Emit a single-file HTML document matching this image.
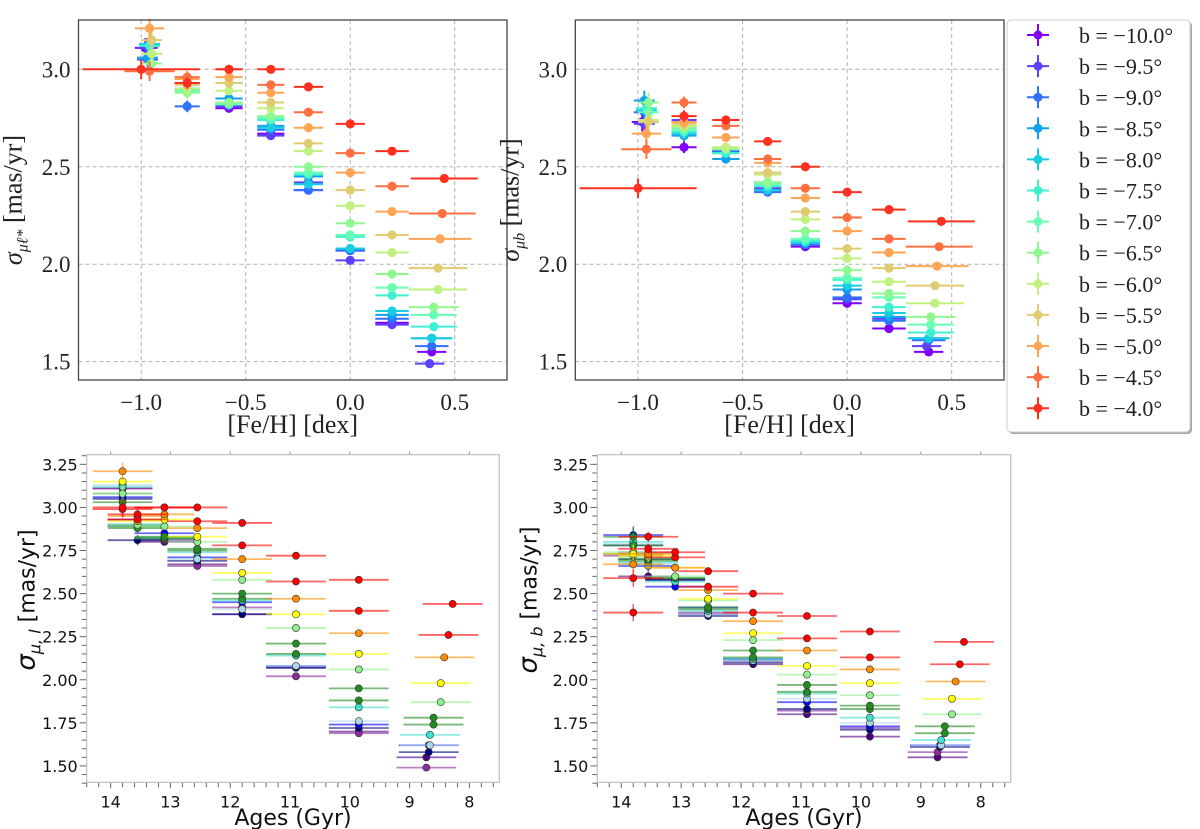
<!DOCTYPE html>
<html><head><meta charset="utf-8"><title>Velocity dispersion vs metallicity and age</title>
<style>
html,body{margin:0;padding:0;background:#fff;}
svg{display:block;}
.serif{font-family:"Liberation Serif",serif;}
.sans{font-family:"DejaVu Sans","Liberation Sans",sans-serif;}
</style></head>
<body>
<svg id="fig" width="1200" height="829" viewBox="0 0 1200 829" xmlns="http://www.w3.org/2000/svg">
<rect width="1200" height="829" fill="#fff"/>
<g id="tl"></g>
<g id="tr"></g>
<g id="bl"></g>
<g id="br"></g>
<g id="legend"></g>
</svg>
<script>
const seriesLabels = ["−10.0","−9.5","−9.0","−8.5","−8.0","−7.5","−7.0","−6.5","−6.0","−5.5","−5.0","−4.5","−4.0"];
const fehBins = [-0.97,-0.78,-0.58,-0.38,-0.2,0.0,0.2,0.40];
const fehFirst = [-0.98,-0.97,-0.97,-0.97,-0.96,-0.96,-0.95,-0.95,-0.95,-0.95,-0.96,-0.96,-1.0];
const fehLast = [0.39,0.38,0.39,0.39,0.39,0.40,0.40,0.40,0.42,0.42,0.43,0.44,0.45];
const fehErr = [0.06,0.06,0.065,0.065,0.07,0.07,0.08,0.1];
const fehFirstErr = [0.05,0.05,0.05,0.05,0.05,0.05,0.05,0.05,0.05,0.05,0.07,0.12,0.28];
const fehLastErr = [0.07,0.07,0.08,0.09,0.1,0.11,0.11,0.12,0.14,0.14,0.15,0.16,0.16];
const ageBins = [13.8,13.55,13.1,12.55,11.8,10.9,9.85,8.65];
const ageLast = [8.72,8.72,8.68,8.68,8.66,8.66,8.6,8.6,8.48,8.48,8.42,8.35,8.28];
const ageErr = [0.5,0.5,0.5,0.5,0.5,0.5,0.5,0.5];
const sigL = [
 [3.11,2.93,2.80,2.67,2.38,2.07,1.70,1.55],
 [3.11,2.93,2.81,2.66,2.42,2.02,1.69,1.49],
 [3.05,2.81,2.82,2.69,2.38,2.07,1.72,1.58],
 [3.06,2.90,2.85,2.71,2.45,2.08,1.74,1.62],
 [3.13,2.89,2.83,2.70,2.41,2.08,1.76,1.62],
 [3.12,2.90,2.82,2.74,2.46,2.14,1.84,1.68],
 [3.08,2.89,2.82,2.75,2.47,2.15,1.88,1.74],
 [3.03,2.88,2.83,2.76,2.50,2.21,1.95,1.78],
 [3.08,2.90,2.89,2.80,2.58,2.30,2.06,1.87],
 [3.15,2.92,2.93,2.83,2.62,2.38,2.15,1.98],
 [3.21,2.95,2.96,2.88,2.70,2.47,2.27,2.13],
 [2.99,2.96,3.00,2.92,2.78,2.57,2.40,2.26],
 [3.00,2.93,3.00,3.00,2.91,2.72,2.58,2.44]
];
const sigB = [
 [2.73,2.60,2.58,2.38,2.09,1.80,1.67,1.55],
 [2.72,2.74,2.58,2.39,2.11,1.82,1.72,1.58],
 [2.78,2.70,2.58,2.37,2.10,1.83,1.71,1.61],
 [2.84,2.66,2.54,2.42,2.12,1.87,1.73,1.62],
 [2.79,2.67,2.57,2.38,2.11,1.89,1.75,1.62],
 [2.80,2.68,2.57,2.40,2.12,1.92,1.78,1.65],
 [2.78,2.69,2.59,2.41,2.13,1.93,1.83,1.69],
 [2.83,2.70,2.59,2.42,2.17,1.97,1.85,1.73],
 [2.74,2.71,2.60,2.46,2.23,2.03,1.91,1.80],
 [2.73,2.72,2.65,2.47,2.27,2.08,1.98,1.89],
 [2.67,2.73,2.65,2.52,2.34,2.17,2.06,1.99],
 [2.59,2.83,2.71,2.54,2.39,2.24,2.13,2.09],
 [2.39,2.76,2.74,2.63,2.50,2.37,2.28,2.22]
];
const sigErr = [0.05,0.03,0.02,0.02,0.02,0.02,0.02,0.02];
const fehTicks = [-1.0,-0.5,0.0,0.5];
const fehTickLabels = ["−1.0","−0.5","0.0","0.5"];
const sigTicksTop = [1.5,2.0,2.5,3.0];
const sigTickLabelsTop = ["1.5","2.0","2.5","3.0"];
const ageTicks = [14,13,12,11,10,9,8];
const sigTicksBot = [1.5,1.75,2.0,2.25,2.5,2.75,3.0,3.25];
const sigTickLabelsBot = ["1.50","1.75","2.00","2.25","2.50","2.75","3.00","3.25"];

const topColors = ["#8000ff","#5a40ff","#3070ff","#10a0f0","#18cde0","#40f0d0","#66ffb3","#90f890","#c0f080","#e0cc70","#ffa555","#ff7040","#ff3020"];
const botColors = ["#4b0082","#8b2a9b","#000080","#0000ff","#add8e6","#40e0d0","#228b22","#228b22","#90ee90","#ffff00","#ff8c00","#ff0000","#ff0000"];
const NS = "http://www.w3.org/2000/svg";
function mk(parent, tag, attrs, name, txt){
  const e = document.createElementNS(NS, tag);
  for (const k in attrs) e.setAttribute(k, attrs[k]);
  
  
  if (txt !== undefined) e.textContent = txt;
  parent.appendChild(e); return e;
}
function lin(d0,d1,r0,r1){ return v => r0 + (v-d0)/(d1-d0)*(r1-r0); }

function topPanel(id, x0, x1, sig, isL){
  const g = document.getElementById(id);
  const y0 = 20, y1 = 380;
  const X = lin(-1.30,0.75,x0,x1), Y = lin(3.253,1.406,y0,y1);
  fehTicks.forEach((t,i)=>{
    mk(g,'line',{x1:X(t),x2:X(t),y1:y0,y2:y1,stroke:'#b0b0b0','stroke-width':1,'stroke-dasharray':'4,3'},'x-grid-line');
    mk(g,'text',{x:X(t),y:y1+30,'text-anchor':'middle','font-size':23,class:'serif',fill:'#222'},'x-tick-label',fehTickLabels[i]);
  });
  sigTicksTop.forEach((t,i)=>{
    mk(g,'line',{x1:x0,x2:x1,y1:Y(t),y2:Y(t),stroke:'#b0b0b0','stroke-width':1,'stroke-dasharray':'4,3'},'y-grid-line');
    mk(g,'text',{x:x0-8,y:Y(t)+8,'text-anchor':'end','font-size':23,class:'serif',fill:'#222'},'y-tick-label',sigTickLabelsTop[i]);
  });
  for (let s=0;s<sig.length;s++){
    const c = topColors[s];
    for (let b=0;b<8;b++){
      const fx = b===0 ? fehFirst[s] : (b===7 ? fehLast[s] : fehBins[b]);
      const fe = b===0 ? fehFirstErr[s] : (b===7 ? fehLastErr[s] : fehErr[b]);
      const v = sig[s][b], cy = Y(v), cx = X(fx);
      mk(g,'line',{x1:X(fx-fe),x2:X(fx+fe),y1:cy,y2:cy,stroke:c,'stroke-width':2},'error-bar-x');
      mk(g,'line',{x1:cx,x2:cx,y1:Y(v+sigErr[b]),y2:Y(v-sigErr[b]),stroke:c,'stroke-width':2},'error-bar-y');
      mk(g,'circle',{cx:cx,cy:cy,r:4.6,fill:c},'data-point');
    }
  }
  mk(g,'rect',{x:x0,y:y0,width:x1-x0,height:y1-y0,fill:'none',stroke:'#444','stroke-width':1.3},'axes-frame');
  mk(g,'text',{x:(x0+x1)/2,y:433,'text-anchor':'middle','font-size':26,class:'serif',fill:'#222'},'x-axis-title','[Fe/H] [dex]');
  const cx = x0-57, cy = 200;
  const yl = mk(g,'text',{x:cx,y:cy,'text-anchor':'middle','font-size':26,class:'serif',fill:'#222',transform:`rotate(-90 ${cx} ${cy})`},'y-axis-title');
  const t1 = document.createElementNS(NS,'tspan'); t1.setAttribute('font-style','italic'); t1.textContent='σ'; yl.appendChild(t1);
  const t2 = document.createElementNS(NS,'tspan'); t2.setAttribute('font-size','16'); t2.setAttribute('dy','6'); t2.setAttribute('font-style','italic'); t2.textContent = isL ? 'μℓ*' : 'μb'; yl.appendChild(t2);
  const t3 = document.createElementNS(NS,'tspan'); t3.setAttribute('dy','-6'); t3.textContent=' [mas/yr]'; yl.appendChild(t3);
}

function botPanel(id, x0, x1, sig, isL){
  const g = document.getElementById(id);
  const y0 = 454.7, y1 = 782.3;
  const X = lin(14.40,7.50,x0,x1), Y = lin(3.306,1.405,y0,y1);
  for (let t=7.6; t<=14.4; t+=0.2){
    const major = Math.abs(t-Math.round(t))<0.01;
    mk(g,'line',{x1:X(t),x2:X(t),y1:y1,y2:y1+(major?6:5),stroke:'#666','stroke-width':1},'x-tick');
    if (major) mk(g,'line',{x1:X(t),x2:X(t),y1:y0,y2:y0-3,stroke:'#888','stroke-width':1},'x-tick-top');
  }
  ageTicks.forEach(t=>{
    mk(g,'text',{x:X(t),y:y1+25,'text-anchor':'middle','font-size':16,class:'sans',fill:'#111'},'x-tick-label',String(t));
  });
  for (let v=1.40; v<=3.30; v+=0.05){
    const major = Math.abs(v*4-Math.round(v*4))<0.01;
    mk(g,'line',{x1:x0,x2:x0-(major?7:5),y1:Y(v),y2:Y(v),stroke:'#666','stroke-width':1},'y-tick');
  }
  sigTicksBot.forEach((t,i)=>{
    mk(g,'text',{x:x0-9,y:Y(t)+6,'text-anchor':'end','font-size':16,class:'sans',fill:'#111'},'y-tick-label',sigTickLabelsBot[i]);
  });
  for (let s=0;s<sig.length;s++){
    const c = botColors[s];
    for (let b=0;b<8;b++){
      const ax = b===7 ? ageLast[s] : ageBins[b];
      const v = sig[s][b], cy = Y(v), cx = X(ax);
      mk(g,'line',{x1:X(ax+ageErr[b]),x2:X(ax-ageErr[b]),y1:cy,y2:cy,stroke:c,'stroke-width':1.8,'stroke-opacity':0.6},'error-bar-x');
      mk(g,'line',{x1:cx,x2:cx,y1:Y(v+sigErr[b]),y2:Y(v-sigErr[b]),stroke:c,'stroke-width':1.5,'stroke-opacity':0.6},'error-bar-y');
      mk(g,'circle',{cx:cx,cy:cy,r:3.6,fill:c,stroke:'#333','stroke-width':0.6},'data-point');
    }
  }
  mk(g,'rect',{x:x0,y:y0,width:x1-x0,height:y1-y0,fill:'none',stroke:'#c0c0c0','stroke-width':1.2},'axes-frame');
  mk(g,'text',{x:(x0+x1)/2,y:825,'text-anchor':'middle','font-size':22,class:'sans',fill:'#111'},'x-axis-title','Ages (Gyr)');
  const cx = x0-(isL?52:61), cy = 600;
  const yl = mk(g,'text',{x:cx,y:cy,'text-anchor':'middle','font-size':22,class:'sans',fill:'#111',transform:`rotate(-90 ${cx} ${cy})`},'y-axis-title');
  const t1 = document.createElementNS(NS,'tspan'); t1.setAttribute('font-style','italic'); t1.setAttribute('font-size','26'); t1.textContent='σ'; yl.appendChild(t1);
  const t2 = document.createElementNS(NS,'tspan'); t2.setAttribute('font-size','16'); t2.setAttribute('dy','6'); t2.setAttribute('font-style','italic'); t2.textContent = isL ? 'μ, l' : 'μ, b'; yl.appendChild(t2);
  const t3 = document.createElementNS(NS,'tspan'); t3.setAttribute('dy','-6'); t3.textContent=' [mas/yr]'; yl.appendChild(t3);
}

topPanel('tl',78.5,507,sigL,true);
topPanel('tr',575.3,1004,sigB,false);
botPanel('bl',86.7,499.3,sigL,true);
botPanel('br',597.3,1010.7,sigB,false);

(function(){
  const g = document.getElementById('legend');
  mk(g,'rect',{x:1009,y:22,width:183,height:412,rx:4,fill:'#aaa'},'legend-shadow');
  mk(g,'rect',{x:1007,y:20,width:183,height:412,rx:4,fill:'#fff',stroke:'#ccc','stroke-width':1},'legend-box');
  for (let i=0;i<seriesLabels.length;i++){
    const y = 35 + i*31.1, c = topColors[i];
    const e = mk(g,'g',{},'legend-entry');
    mk(e,'line',{x1:1027,x2:1049,y1:y,y2:y,stroke:c,'stroke-width':2},'legend-marker-h');
    mk(e,'line',{x1:1038,x2:1038,y1:y-11,y2:y+11,stroke:c,'stroke-width':2},'legend-marker-v');
    mk(e,'circle',{cx:1038,cy:y,r:4.5,fill:c},'legend-marker');
    mk(e,'text',{x:1079,y:y+8,'font-size':22,class:'serif',fill:'#222'},'legend-label','b = '+seriesLabels[i]+'°');
  }
})();
</script>
</body></html>
